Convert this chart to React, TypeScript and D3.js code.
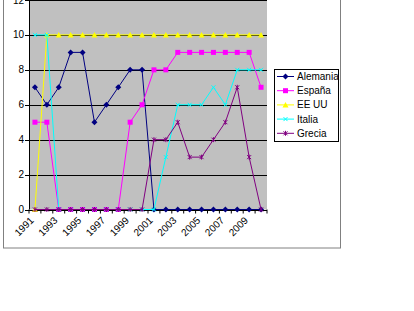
import React from "react";
import * as d3 from "d3";

const years = [1991,1992,1993,1994,1995,1996,1997,1998,1999,2000,2001,2002,2003,2004,2005,2006,2007,2008,2009,2010];
const alemania = [7,6,7,9,9,5,6,7,8,8,0,0,0,0,0,0,0,0,0,0];
const espana =   [5,5,0,0,0,0,0,0,5,6,8,8,9,9,9,9,9,9,9,7];
const eeuu =     [0,10,10,10,10,10,10,10,10,10,10,10,10,10,10,10,10,10,10,10];
const italia =   [10,10,0,0,0,0,0,0,0,0,0,3,6,6,6,7,6,8,8,8];
const grecia =   [0,0,0,0,0,0,0,0,0,0,4,4,5,3,3,4,5,7,3,0];
const yTicks = [0,2,4,6,8,10,12];

const series = [
  { name: "Alemania", values: alemania, color: "#000080", marker: "diamond" },
  { name: "España", values: espana, color: "#FF00FF", marker: "square" },
  { name: "EE UU", values: eeuu, color: "#FFFF00", marker: "triangle" },
  { name: "Italia", values: italia, color: "#00FFFF", marker: "x" },
  { name: "Grecia", values: grecia, color: "#800080", marker: "star" },
];

function Marker({ type, x, y, color }: { type: string; x: number; y: number; color: string }) {
  if (type === "diamond") {
    return <path d={`M${x},${y - 3}L${x + 3},${y}L${x},${y + 3}L${x - 3},${y}Z`} fill={color} />;
  }
  if (type === "square") {
    return <rect x={x - 2.5} y={y - 2.5} width={5} height={5} fill={color} />;
  }
  if (type === "triangle") {
    return <path d={`M${x},${y - 3}L${x + 3},${y + 2.5}L${x - 3},${y + 2.5}Z`} fill={color} />;
  }
  if (type === "x") {
    return <path d={`M${x - 2},${y - 2}L${x + 2},${y + 2}M${x - 2},${y + 2}L${x + 2},${y - 2}`} stroke={color} strokeWidth={1} />;
  }
  return (
    <path
      d={`M${x - 2},${y - 2}L${x + 2},${y + 2}M${x - 2},${y + 2}L${x + 2},${y - 2}M${x},${y - 2.5}L${x},${y + 2.5}`}
      stroke={color}
      strokeWidth={1}
    />
  );
}

export default function App() {
  const W = 414, H = 311;
  const left = 29, right = 267, top = 0, bottom = 209.5;
  const x = d3.scaleBand<number>().domain(years).range([left, right]);
  const y = d3.scaleLinear().domain([0, 12]).range([bottom, top]);
  const cx = (yr: number) => (x(yr) as number) + x.bandwidth() / 2;
  const line = d3
    .line<number>()
    .x((_, i) => cx(years[i]))
    .y((v) => y(v));
  const font = "'Liberation Sans', Arial, sans-serif";
  const legendX = 274, legendY = 69;
  return (
    <svg width={W} height={H} style={{ position: "absolute", left: 0, top: 0, background: "#fff" }} fontFamily={font}>
      <rect x={3.5} y={-10} width={337} height={258} fill="#fff" stroke="#808080" strokeWidth={1} />
      <rect x={left} y={top} width={right - left} height={bottom - top} fill="#C0C0C0" />
      {yTicks.map((t) => (
        <g key={t}>
          <line x1={left} x2={right} y1={Math.round(y(t)) + 0.5} y2={Math.round(y(t)) + 0.5} stroke="#000" strokeWidth={1} />
          <line x1={left - 4} x2={left} y1={Math.round(y(t)) + 0.5} y2={Math.round(y(t)) + 0.5} stroke="#000" />
          <text x={left - 5} y={y(t)} dy="0.35em" textAnchor="end" fontSize={10} fill="#000">
            {t}
          </text>
        </g>
      ))}
      <line x1={left + 0.5} x2={left + 0.5} y1={top} y2={bottom} stroke="#000" />
      <line x1={left} x2={right} y1={Math.round(bottom) + 0.5} y2={Math.round(bottom) + 0.5} stroke="#000" />
      {years.concat([0]).map((yr, i) => {
        const xx = left + i * x.step();
        return <line key={"t" + i} x1={xx} x2={xx} y1={bottom} y2={bottom + 4} stroke="#000" />;
      })}
      {years.map((yr, i) =>
        i % 2 === 0 ? (
          <text
            key={"l" + yr}
            x={0}
            y={0}
            fontSize={10}
            textAnchor="end"
            dy="0.35em"
            transform={`translate(${cx(yr) - 3},${bottom + 9}) rotate(-45)`}
          >
            {yr}
          </text>
        ) : null
      )}
      {series.map((s) => (
        <g key={s.name}>
          <path d={line(s.values) || ""} fill="none" stroke={s.color} strokeWidth={1} />
          {s.values.map((v, i) => (
            <Marker key={i} type={s.marker} x={cx(years[i])} y={y(v)} color={s.color} />
          ))}
        </g>
      ))}
      <rect x={legendX + 0.5} y={legendY + 0.5} width={64} height={72} fill="#fff" stroke="#000" strokeWidth={1} />
      {series.map((s, i) => {
        const ly = legendY + 7.5 + i * 14.2;
        return (
          <g key={"lg" + s.name}>
            <line x1={legendX + 3} x2={legendX + 20} y1={ly} y2={ly} stroke={s.color} />
            <Marker type={s.marker} x={legendX + 11.5} y={ly} color={s.color} />
            <text x={legendX + 23} y={ly} dy="0.35em" fontSize={10} fill="#000">
              {s.name}
            </text>
          </g>
        );
      })}
    </svg>
  );
}
